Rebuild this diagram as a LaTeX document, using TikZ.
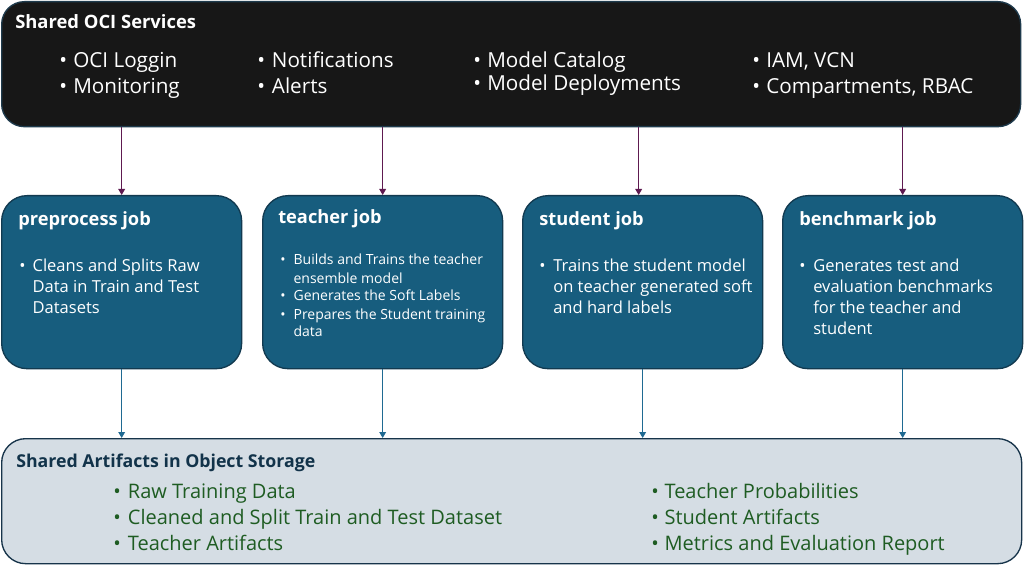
\documentclass[tikz,border=0pt]{standalone}
\usepackage{fontspec}
\setmainfont{Open Sans}
\usetikzlibrary{arrows.meta}
\definecolor{topfill}{HTML}{171717}
\definecolor{topedge}{HTML}{1E3A4C}
\definecolor{jobfill}{HTML}{175D7E}
\definecolor{jobedge}{HTML}{123A50}
\definecolor{botfill}{HTML}{D5DDE4}
\definecolor{botedge}{HTML}{17344A}
\definecolor{purplearrow}{HTML}{5E1A50}
\definecolor{bluearrow}{HTML}{1F6A92}
\definecolor{greentext}{HTML}{1E5C22}
\definecolor{navytext}{HTML}{12334A}
\tikzset{
  panel/.style={draw, line width=1pt, inner sep=0pt, anchor=north west},
  topbox/.style={panel, fill=topfill, draw=topedge, rounded corners=17pt, minimum width=764.25pt, minimum height=93.75pt},
  jobbox/.style={panel, fill=jobfill, draw=jobedge, rounded corners=19pt, minimum width=180pt, minimum height=129.75pt},
  botbox/.style={panel, fill=botfill, draw=botedge, rounded corners=18pt, minimum width=765pt, minimum height=93.75pt},
  txt/.style={anchor=base west, inner sep=0pt},
  toptitle/.style={txt, text=white, font=\fontsize{13.8}{15}\selectfont\bfseries},
  topitem/.style={txt, text=white, font=\fontsize{15.5}{19.5}\selectfont},
  jobtitle/.style={txt, text=white, font=\fontsize{13.7}{15}\selectfont\bfseries},
  jobitem/.style={txt, text=white, font=\fontsize{12.4}{15.75}\selectfont},
  jobsmall/.style={txt, text=white, font=\fontsize{10.5}{13.5}\selectfont},
  bottitle/.style={txt, text=navytext, font=\fontsize{13.3}{15}\selectfont\bfseries},
  botitem/.style={txt, text=greentext, font=\fontsize{15}{19.5}\selectfont},
  parrow/.style={draw=purplearrow, line width=0.9pt, -{Triangle[length=4.5pt,width=5pt]}, fill=purplearrow},
  barrow/.style={draw=bluearrow, line width=0.9pt, -{Triangle[length=4.5pt,width=5pt]}, fill=bluearrow},
}
\newcommand{\blist}[2]{\begin{tabular}[t]{@{}p{#1}@{}l@{}}#2\end{tabular}}
\begin{document}
\begin{tikzpicture}[x=0.75pt,y=-0.75pt]
\useasboundingbox (0,0) rectangle (1024,570);
\fill[white] (0,0) rectangle (1024,570);

% boxes
\node (top) [topbox] at (1,1) {};
\node (j1) [jobbox] at (1,195) {};
\node (j2) [jobbox] at (262,195) {};
\node (j3) [jobbox] at (522,195) {};
\node (j4) [jobbox] at (782,195) {};
\node (bot) [botbox] at (1,438) {};

% top texts
\node (tt) [toptitle] at (15,29) {Shared OCI Services};
\node (tc1) [topitem] at (59,68) {\blist{10.5pt}{• & OCI Loggin\\ • & Monitoring}};
\node (tc2) [topitem] at (257,68) {\blist{11pt}{• & Notifications\\ • & Alerts}};
\node (tc3) [topitem, font=\fontsize{15.5}{17.6}\selectfont] at (473,67.5) {\blist{10.5pt}{• & Model Catalog\\ • & Model Deployments}};
\node (tc4) [topitem] at (752,68) {\blist{10.5pt}{• & IAM, VCN\\ • & Compartments, RBAC}};

% job texts
\node (jt1) [jobtitle] at (18,226) {preprocess job};
\node (jb1) [jobitem] at (19,271.5) {\blist{10pt}{• & Cleans and Splits Raw\\ & Data in Train and Test\\ & Datasets}};
\node (jt2) [jobtitle] at (278,224) {teacher job};
\node (jb2) [jobsmall] at (280,265) {\blist{10pt}{• & Builds and Trains the teacher\\ & ensemble model\\ • & Generates the Soft Labels\\ • & Prepares the Student training\\ & data}};
\node (jt3) [jobtitle] at (539,226) {student job};
\node (jb3) [jobitem] at (539,271.5) {\blist{10.5pt}{• & Trains the student model\\ & on teacher generated soft\\ & and hard labels}};
\node (jt4) [jobtitle] at (799,226) {benchmark job};
\node (jb4) [jobitem] at (799,271.5) {\blist{10.5pt}{• & Generates test and\\ & evaluation benchmarks\\ & for the teacher and\\ & student}};

% bottom texts
\node (bt) [bottitle] at (16,467) {Shared Artifacts in Object Storage};
\node (bc1) [botitem] at (113,498) {\blist{11pt}{• & Raw Training Data\\ • & Cleaned and Split Train and Test Dataset\\ • & Teacher Artifacts}};
\node (bc2) [botitem] at (651,498) {\blist{10pt}{• & Teacher Probabilities\\ • & Student Artifacts\\ • & Metrics and Evaluation Report}};

% connectors
\draw[parrow] (top.south -| j1.north) -- (j1.north);
\draw[parrow] (top.south -| j2.north) -- (j2.north);
\draw[parrow] ([xshift=-3pt]top.south -| j3.north) -- ([xshift=-3pt]j3.north);
\draw[parrow] (top.south -| j4.north) -- (j4.north);
\draw[barrow] (j1.south) -- (j1.south |- bot.north);
\draw[barrow] (j2.south) -- (j2.south |- bot.north);
\draw[barrow] (j3.south) -- (j3.south |- bot.north);
\draw[barrow] (j4.south) -- (j4.south |- bot.north);
\end{tikzpicture}
\end{document}
